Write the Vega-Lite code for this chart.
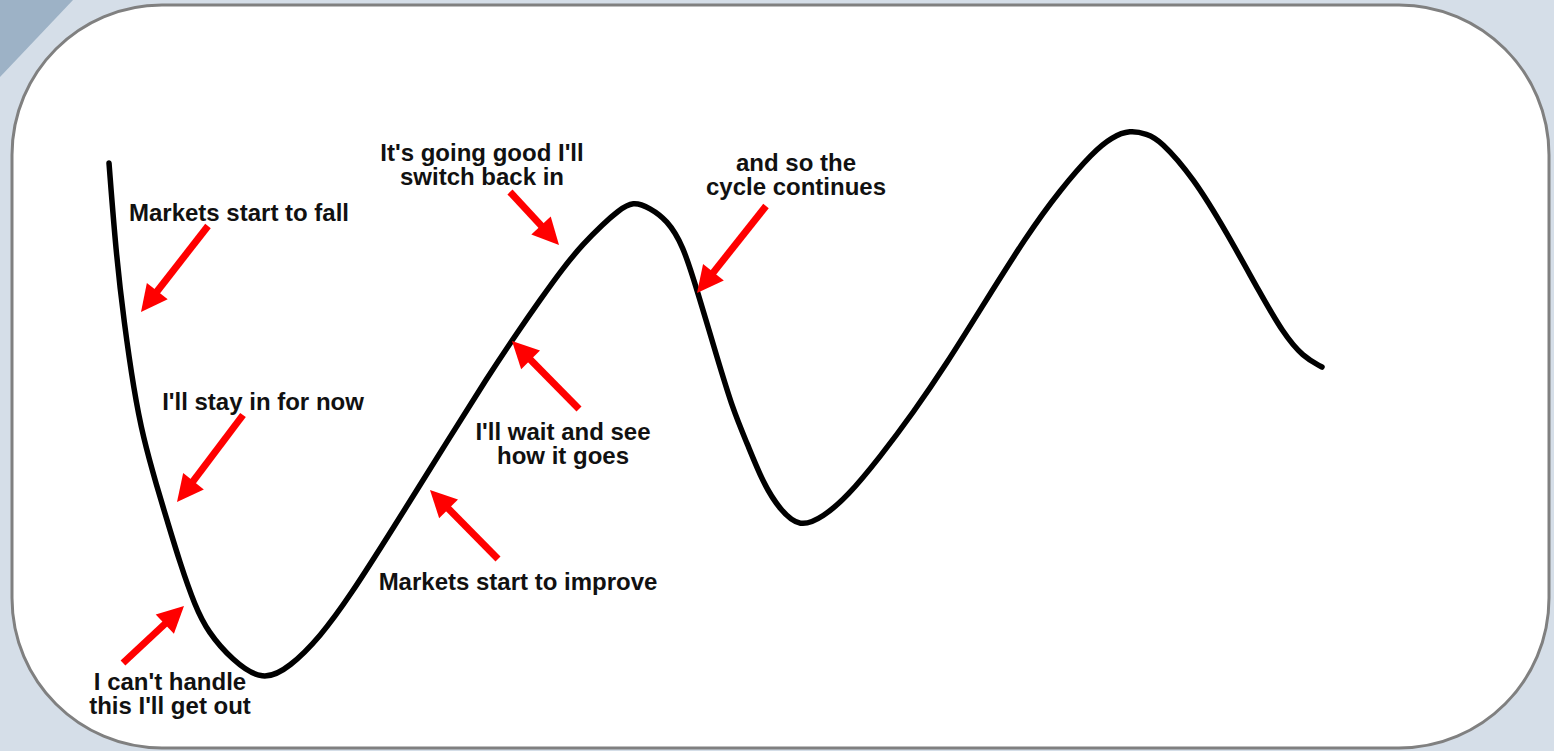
{
  "$schema": "https://vega.github.io/schema/vega-lite/v6.json",
  "width": 1537,
  "height": 743,
  "autosize": {"type": "none"},
  "padding": {"left": 12, "top": 5, "right": 5, "bottom": 3},
  "background": "#d5dee8",
  "config": {
    "view": {"fill": "#ffffff", "stroke": "#808080", "strokeWidth": 3, "cornerRadius": 150},
    "axis": {"disable": true}
  },
  "datasets": {
    "corner": [
      {"t": -2, "lo": 66.26, "hi": 75.8},
      {"t": 7.05, "lo": 75.8, "hi": 75.8}
    ],
    "curve": [
      {"t": 9.7, "v": 58.5}, {"t": 10.4, "v": 49.5}, {"t": 11.2, "v": 42.6}, {"t": 12.2, "v": 35.7},
      {"t": 13.1, "v": 31.1}, {"t": 14.5, "v": 26.1}, {"t": 15.5, "v": 22.8}, {"t": 16.8, "v": 18.5},
      {"t": 18.3, "v": 14.2}, {"t": 19.6, "v": 11.6}, {"t": 22.0, "v": 8.8}, {"t": 25.1, "v": 6.6},
      {"t": 27.8, "v": 8.1}, {"t": 30.8, "v": 11.1}, {"t": 33.8, "v": 15.2}, {"t": 38.0, "v": 21.8},
      {"t": 43.8, "v": 31.1}, {"t": 47.5, "v": 37.0}, {"t": 50.5, "v": 41.5}, {"t": 52.8, "v": 44.8},
      {"t": 55.1, "v": 48.0}, {"t": 57.1, "v": 50.4}, {"t": 59.1, "v": 52.4}, {"t": 60.6, "v": 53.7},
      {"t": 62.1, "v": 54.7}, {"t": 63.8, "v": 54.0}, {"t": 65.5, "v": 52.8}, {"t": 67.1, "v": 50.3},
      {"t": 68.5, "v": 45.8}, {"t": 70.5, "v": 39.1}, {"t": 72.1, "v": 33.8}, {"t": 73.5, "v": 30.5},
      {"t": 75.1, "v": 26.5}, {"t": 76.8, "v": 23.8}, {"t": 78.8, "v": 22.0}, {"t": 81.1, "v": 23.1},
      {"t": 83.5, "v": 25.1}, {"t": 86.8, "v": 29.1}, {"t": 90.1, "v": 33.5}, {"t": 93.5, "v": 38.5},
      {"t": 96.8, "v": 43.8}, {"t": 101.5, "v": 51.3}, {"t": 104.8, "v": 55.8}, {"t": 108.1, "v": 59.6},
      {"t": 110.0, "v": 61.1}, {"t": 111.8, "v": 61.8}, {"t": 113.5, "v": 61.4}, {"t": 114.8, "v": 60.8},
      {"t": 118.1, "v": 57.1}, {"t": 121.5, "v": 51.5}, {"t": 124.8, "v": 45.5}, {"t": 127.1, "v": 41.5},
      {"t": 129.1, "v": 39.1}, {"t": 131.0, "v": 38.1}
    ],
    "arrows": [
      {"tailT": 19.6, "tailV": 52.2, "shaftT": 13.64, "shaftV": 44.55, "tipT": 12.9, "tipV": 43.6, "heading": 218},
      {"tailT": 23.1, "tailV": 33.3, "shaftT": 17.25, "shaftV": 25.54, "tipT": 16.5, "tipV": 24.6, "heading": 218.6},
      {"tailT": 11.1, "tailV": 8.5, "shaftT": 16.33, "shaftV": 13.37, "tipT": 17.2, "tipV": 14.2, "heading": 46.5},
      {"tailT": 49.8, "tailV": 55.6, "shaftT": 53.89, "shaftV": 51.18, "tipT": 54.7, "tipV": 50.3, "heading": 137.2},
      {"tailT": 75.4, "tailV": 54.2, "shaftT": 69.25, "shaftV": 46.44, "tipT": 68.5, "tipV": 45.5, "heading": 218.4},
      {"tailT": 56.7, "tailV": 33.9, "shaftT": 50.84, "shaftV": 39.85, "tipT": 50.0, "tipV": 40.7, "heading": 315.4},
      {"tailT": 48.6, "tailV": 18.9, "shaftT": 42.64, "shaftV": 24.95, "tipT": 41.8, "tipV": 25.8, "heading": 315.4}
    ],
    "labels": [
      {"t": 22.7, "v": 53.4, "label": ["Markets start to fall"]},
      {"t": 25.1, "v": 34.5, "label": ["I'll stay in for now"]},
      {"t": 15.8, "v": 6.5, "label": ["I can't handle", "this I'll get out"]},
      {"t": 47.0, "v": 59.4, "label": ["It's going good I'll", "switch back in"]},
      {"t": 78.4, "v": 58.4, "label": ["and so the", "cycle continues"]},
      {"t": 55.1, "v": 31.5, "label": ["I'll wait and see", "how it goes"]},
      {"t": 50.6, "v": 16.5, "label": ["Markets start to improve"]}
    ]
  },
  "layer": [
    {
      "data": {"name": "corner"},
      "mark": {"type": "area", "color": "#9db2c6", "opacity": 1},
      "encoding": {
        "x": {"field": "t", "type": "quantitative", "scale": {"domain": [0, 153.7]}, "axis": null},
        "y": {"field": "lo", "type": "quantitative", "scale": {"domain": [0, 74.3]}, "axis": null},
        "y2": {"field": "hi"}
      }
    },
    {
      "data": {"name": "curve"},
      "mark": {"type": "line", "color": "#000000", "strokeWidth": 5.5, "interpolate": "basis", "strokeCap": "round"},
      "encoding": {
        "x": {"field": "t", "type": "quantitative", "scale": {"domain": [0, 153.7]}, "axis": null},
        "y": {"field": "v", "type": "quantitative", "scale": {"domain": [0, 74.3]}, "axis": null}
      }
    },
    {
      "data": {"name": "arrows"},
      "mark": {"type": "rule", "color": "#ff0000", "strokeWidth": 7, "strokeCap": "butt"},
      "encoding": {
        "x": {"field": "tailT", "type": "quantitative", "scale": {"domain": [0, 153.7]}, "axis": null},
        "y": {"field": "tailV", "type": "quantitative", "scale": {"domain": [0, 74.3]}, "axis": null},
        "x2": {"field": "shaftT"},
        "y2": {"field": "shaftV"}
      }
    },
    {
      "data": {"name": "arrows"},
      "mark": {"type": "point", "shape": "M0,0L-0.5,1L0.5,1Z", "filled": true, "color": "#ff0000", "opacity": 1, "size": 2800, "strokeWidth": 0},
      "encoding": {
        "x": {"field": "tipT", "type": "quantitative", "scale": {"domain": [0, 153.7]}, "axis": null},
        "y": {"field": "tipV", "type": "quantitative", "scale": {"domain": [0, 74.3]}, "axis": null},
        "angle": {"field": "heading", "type": "quantitative", "scale": null}
      }
    },
    {
      "data": {"name": "labels"},
      "mark": {"type": "text", "font": "Liberation Sans", "fontWeight": "bold", "fontSize": 24, "lineHeight": 24, "color": "#111111", "align": "center", "baseline": "middle"},
      "encoding": {
        "x": {"field": "t", "type": "quantitative", "scale": {"domain": [0, 153.7]}, "axis": null},
        "y": {"field": "v", "type": "quantitative", "scale": {"domain": [0, 74.3]}, "axis": null},
        "text": {"field": "label"}
      }
    }
  ]
}
